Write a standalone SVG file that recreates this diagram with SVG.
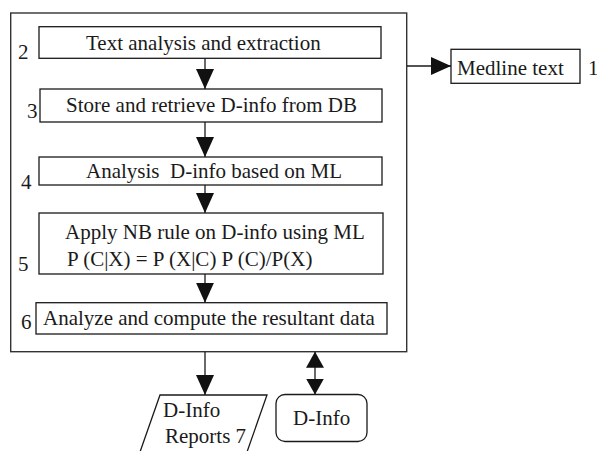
<svg xmlns="http://www.w3.org/2000/svg" width="597" height="451" viewBox="0 0 597 451">
<style>
.box{fill:#fff;stroke:#1a1a1a;stroke-width:1.3}
.outer{fill:#fff;stroke:#333;stroke-width:1.4}
.conn{fill:none;stroke:#1a1a1a;stroke-width:1.3}
text{font-family:"Liberation Serif","Times New Roman",serif;font-size:21px;fill:#1a1a1a;white-space:pre}
</style>
<defs>
<marker id="ah" markerUnits="userSpaceOnUse" markerWidth="20" markerHeight="18" refX="20" refY="9" orient="auto-start-reverse" viewBox="0 0 20 18">
<path d="M0,0 L20,9 L0,18 Z" fill="#111"/>
</marker>
<marker id="ahs" markerUnits="userSpaceOnUse" markerWidth="16" markerHeight="18" refX="16" refY="9" orient="auto-start-reverse" viewBox="0 0 16 18">
<path d="M0,0 L16,9 L0,18 Z" fill="#111"/>
</marker>
</defs>
<g id="system">
<rect class="outer" x="10.7" y="13" width="396" height="338.7"/>
</g>
<g id="n2">
<rect class="box" x="39" y="26.7" width="342" height="31.6"/>
<text x="86" y="50">Text analysis and extraction</text>
<text x="18" y="59">2</text>
</g>
<g id="n3">
<rect class="box" x="40" y="89" width="342" height="33"/>
<text x="66" y="112">Store and retrieve D-info from DB</text>
<text x="27" y="118">3</text>
</g>
<g id="n4">
<rect class="box" x="39" y="157" width="343" height="28"/>
<text x="86" y="178">Analysis  D-info based on ML</text>
<text x="21" y="189">4</text>
</g>
<g id="n5">
<rect class="box" x="39" y="213" width="344" height="61"/>
<text x="65" y="239">Apply NB rule on D-info using ML</text>
<text x="67" y="266">P (C|X) = P (X|C) P (C)/P(X)</text>
<text x="18" y="271">5</text>
</g>
<g id="n6">
<rect class="box" x="36" y="302.7" width="351" height="31.3"/>
<text x="43" y="325">Analyze and compute the resultant data</text>
<text x="21" y="329">6</text>
</g>
<g id="n1">
<rect class="box" x="451" y="49.3" width="129" height="34"/>
<text x="457" y="75">Medline text</text>
<text x="588" y="75">1</text>
</g>
<g id="n7">
<polygon class="box" points="160,395 267,395 247,452 140,452"/>
<text x="163" y="417">D-Info</text>
<text x="165" y="443">Reports 7</text>
</g>
<g id="dinfo">
<rect class="box" x="276" y="394.5" width="91" height="47" rx="9" ry="9"/>
<text x="293" y="425">D-Info</text>
</g>
<g id="connectors">
<line class="conn" x1="205" y1="58.3" x2="205" y2="89" marker-end="url(#ah)"/>
<line class="conn" x1="205" y1="122" x2="205" y2="157" marker-end="url(#ah)"/>
<line class="conn" x1="205" y1="185" x2="205" y2="213" marker-end="url(#ah)"/>
<line class="conn" x1="205" y1="274" x2="205" y2="302.7" marker-end="url(#ah)"/>
<line class="conn" x1="407" y1="66" x2="451" y2="66" marker-end="url(#ah)"/>
<line class="conn" x1="205" y1="351.7" x2="205" y2="395" marker-end="url(#ah)"/>
<line class="conn" x1="315" y1="351.7" x2="315" y2="394.5" marker-start="url(#ahs)" marker-end="url(#ahs)"/>
</g>
</svg>
